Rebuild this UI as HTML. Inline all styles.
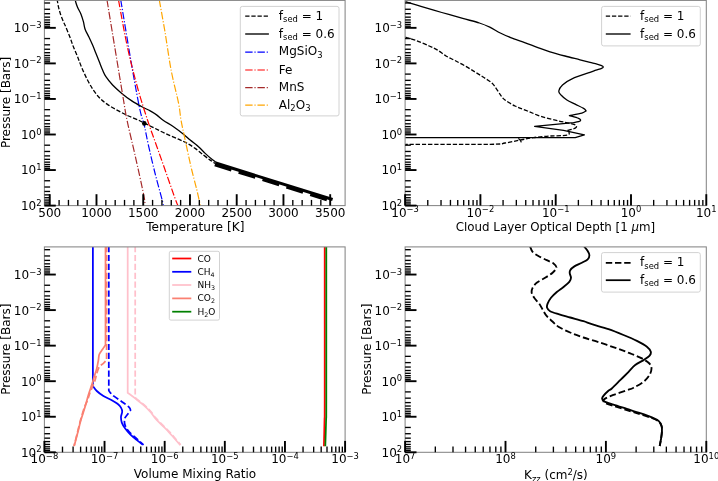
<!DOCTYPE html>
<html><head><meta charset="utf-8"><title>Figure</title>
<style>html,body{margin:0;padding:0;background:#fff}svg{display:block}</style></head>
<body>
<svg width="718" height="481" viewBox="0 0 718 481" font-family='"DejaVu Sans","Liberation Sans",sans-serif' fill="#000">
<rect width="718" height="481" fill="#fff"/>
<g id="p1">
<clipPath id="c1"><rect x="44.4" y="0.4" width="300.70000000000005" height="205.2"/></clipPath>
<g clip-path="url(#c1)">
<path d="M57.10 -1.00 C57.32 0.28 57.83 4.17 58.40 6.70 C58.97 9.23 59.67 11.70 60.50 14.20 C61.33 16.70 62.52 19.58 63.40 21.70 C64.28 23.82 64.68 24.25 65.80 26.90 C66.92 29.55 68.83 34.28 70.10 37.60 C71.37 40.92 72.15 43.60 73.40 46.80 C74.65 50.00 76.22 53.35 77.60 56.80 C78.98 60.25 80.05 63.63 81.70 67.50 C83.35 71.37 85.55 76.23 87.50 80.00 C89.45 83.77 91.30 87.03 93.40 90.10 C95.50 93.17 97.60 95.90 100.10 98.40 C102.60 100.90 105.33 103.02 108.40 105.10 C111.47 107.18 115.15 109.08 118.50 110.90 C121.85 112.72 125.17 114.47 128.50 116.00 C131.83 117.53 135.85 118.90 138.50 120.10 C141.15 121.30 141.63 121.82 144.40 123.20 C147.17 124.58 151.37 126.57 155.10 128.40 C158.83 130.23 162.90 132.40 166.80 134.20 C170.70 136.00 175.17 137.72 178.50 139.20 C181.83 140.68 184.02 141.57 186.80 143.10 C189.58 144.63 192.42 146.40 195.20 148.40 C197.98 150.40 201.00 153.15 203.50 155.10 C206.00 157.05 208.25 158.70 210.20 160.10 C212.15 161.50 214.37 162.93 215.20 163.50" fill="none" stroke="#000" stroke-width="1.3" stroke-dasharray="4.3,1.85" />
<path d="M74.90 -1.00 C75.15 -0.13 75.87 2.63 76.40 4.20 C76.93 5.77 77.33 6.73 78.10 8.40 C78.87 10.07 80.12 11.98 81.00 14.20 C81.88 16.42 82.72 19.20 83.40 21.70 C84.08 24.20 84.20 26.68 85.10 29.20 C86.00 31.72 87.55 34.15 88.80 36.80 C90.05 39.45 91.40 42.32 92.60 45.10 C93.80 47.88 94.88 50.72 96.00 53.50 C97.12 56.28 98.20 59.05 99.30 61.80 C100.40 64.55 101.50 67.52 102.60 70.00 C103.70 72.48 104.23 74.20 105.90 76.70 C107.57 79.20 109.95 82.22 112.60 85.00 C115.25 87.78 118.60 90.75 121.80 93.40 C125.00 96.05 128.45 98.67 131.80 100.90 C135.15 103.13 138.83 105.13 141.90 106.80 C144.97 108.47 147.70 109.52 150.20 110.90 C152.70 112.28 154.68 113.50 156.90 115.10 C159.12 116.70 160.73 118.57 163.50 120.50 C166.27 122.43 170.17 124.42 173.50 126.70 C176.83 128.98 180.72 131.97 183.50 134.20 C186.28 136.43 187.70 138.02 190.20 140.10 C192.70 142.18 196.00 144.48 198.50 146.70 C201.00 148.92 202.97 151.30 205.20 153.40 C207.43 155.50 209.95 157.72 211.90 159.30 C213.85 160.88 216.07 162.30 216.90 162.90" fill="none" stroke="#000" stroke-width="1.3" />
<path d="M120.75 0.00 C122.71 11.67 129.29 51.67 132.50 70.00 C135.71 88.33 138.05 100.83 140.00 110.00 C141.95 119.17 142.80 119.15 144.20 125.00 C145.60 130.85 146.58 137.02 148.40 145.10 C150.22 153.18 152.87 164.58 155.10 173.50 C157.33 182.42 160.42 193.28 161.80 198.60 C163.18 203.92 163.13 204.27 163.40 205.40" fill="none" stroke="#0000ff" stroke-width="1.2" stroke-dasharray="7.4,1.85,1.16,1.85" />
<path d="M118.50 0.00 C120.00 7.92 124.33 32.92 127.50 47.50 C130.67 62.08 134.17 75.42 137.50 87.50 C140.83 99.58 144.57 110.97 147.50 120.00 C150.43 129.03 152.45 134.18 155.10 141.70 C157.75 149.22 160.07 155.62 163.40 165.10 C166.73 174.58 172.70 191.88 175.10 198.60 C177.50 205.32 177.35 204.27 177.80 205.40" fill="none" stroke="#ff0000" stroke-width="1.2" stroke-dasharray="7.4,1.85,1.16,1.85" />
<path d="M107.00 0.00 C109.58 15.67 119.17 74.00 122.50 94.00 C125.83 114.00 124.92 109.83 127.00 120.00 C129.08 130.17 132.21 142.50 135.00 155.00 C137.79 167.50 142.08 186.58 143.75 195.00 C145.42 203.42 144.79 203.75 145.00 205.50" fill="none" stroke="#a52a2a" stroke-width="1.2" stroke-dasharray="7.4,1.85,1.16,1.85" />
<path d="M159.30 0.00 C160.25 5.33 163.03 20.33 165.00 32.00 C166.97 43.67 168.83 58.10 171.10 70.00 C173.37 81.90 176.95 95.07 178.60 103.40 C180.25 111.73 179.90 113.88 181.00 120.00 C182.10 126.12 183.53 132.30 185.20 140.10 C186.87 147.90 189.05 158.45 191.00 166.80 C192.95 175.15 195.35 183.77 196.90 190.20 C198.45 196.63 199.73 202.87 200.30 205.40" fill="none" stroke="#ffa500" stroke-width="1.2" stroke-dasharray="7.4,1.85,1.16,1.85" />
<circle cx="144.3" cy="123.4" r="2.3" fill="#000"/>
<path d="M215.70 163.00 L332.60 199.50" fill="none" stroke="#000" stroke-width="3.0" />
<path d="M214.90 164.40 L331.80 200.90" fill="none" stroke="#000" stroke-width="3.8" stroke-dasharray="17.4,7.6" />
</g>
<rect x="44.4" y="0.4" width="300.70000000000005" height="205.2" fill="none" stroke="#858585" stroke-width="1.05"/>
<line x1="44.4" x2="55.8" y1="205.60" y2="205.60" stroke="#000" stroke-width="1.9"/>
<line x1="44.4" x2="50.1" y1="180.75" y2="180.75" stroke="#000" stroke-width="1.35"/>
<line x1="44.4" x2="50.1" y1="187.01" y2="187.01" stroke="#000" stroke-width="1.35"/>
<line x1="44.4" x2="50.1" y1="191.45" y2="191.45" stroke="#000" stroke-width="1.35"/>
<line x1="44.4" x2="50.1" y1="194.90" y2="194.90" stroke="#000" stroke-width="1.35"/>
<line x1="44.4" x2="50.1" y1="197.71" y2="197.71" stroke="#000" stroke-width="1.35"/>
<line x1="44.4" x2="50.1" y1="200.09" y2="200.09" stroke="#000" stroke-width="1.35"/>
<line x1="44.4" x2="50.1" y1="202.15" y2="202.15" stroke="#000" stroke-width="1.35"/>
<line x1="44.4" x2="50.1" y1="203.97" y2="203.97" stroke="#000" stroke-width="1.35"/>
<line x1="44.4" x2="55.8" y1="170.05" y2="170.05" stroke="#000" stroke-width="1.9"/>
<line x1="44.4" x2="50.1" y1="145.20" y2="145.20" stroke="#000" stroke-width="1.35"/>
<line x1="44.4" x2="50.1" y1="151.46" y2="151.46" stroke="#000" stroke-width="1.35"/>
<line x1="44.4" x2="50.1" y1="155.90" y2="155.90" stroke="#000" stroke-width="1.35"/>
<line x1="44.4" x2="50.1" y1="159.35" y2="159.35" stroke="#000" stroke-width="1.35"/>
<line x1="44.4" x2="50.1" y1="162.16" y2="162.16" stroke="#000" stroke-width="1.35"/>
<line x1="44.4" x2="50.1" y1="164.54" y2="164.54" stroke="#000" stroke-width="1.35"/>
<line x1="44.4" x2="50.1" y1="166.60" y2="166.60" stroke="#000" stroke-width="1.35"/>
<line x1="44.4" x2="50.1" y1="168.42" y2="168.42" stroke="#000" stroke-width="1.35"/>
<line x1="44.4" x2="55.8" y1="134.50" y2="134.50" stroke="#000" stroke-width="1.9"/>
<line x1="44.4" x2="50.1" y1="109.65" y2="109.65" stroke="#000" stroke-width="1.35"/>
<line x1="44.4" x2="50.1" y1="115.91" y2="115.91" stroke="#000" stroke-width="1.35"/>
<line x1="44.4" x2="50.1" y1="120.35" y2="120.35" stroke="#000" stroke-width="1.35"/>
<line x1="44.4" x2="50.1" y1="123.80" y2="123.80" stroke="#000" stroke-width="1.35"/>
<line x1="44.4" x2="50.1" y1="126.61" y2="126.61" stroke="#000" stroke-width="1.35"/>
<line x1="44.4" x2="50.1" y1="128.99" y2="128.99" stroke="#000" stroke-width="1.35"/>
<line x1="44.4" x2="50.1" y1="131.05" y2="131.05" stroke="#000" stroke-width="1.35"/>
<line x1="44.4" x2="50.1" y1="132.87" y2="132.87" stroke="#000" stroke-width="1.35"/>
<line x1="44.4" x2="55.8" y1="98.95" y2="98.95" stroke="#000" stroke-width="1.9"/>
<line x1="44.4" x2="50.1" y1="74.10" y2="74.10" stroke="#000" stroke-width="1.35"/>
<line x1="44.4" x2="50.1" y1="80.36" y2="80.36" stroke="#000" stroke-width="1.35"/>
<line x1="44.4" x2="50.1" y1="84.80" y2="84.80" stroke="#000" stroke-width="1.35"/>
<line x1="44.4" x2="50.1" y1="88.25" y2="88.25" stroke="#000" stroke-width="1.35"/>
<line x1="44.4" x2="50.1" y1="91.06" y2="91.06" stroke="#000" stroke-width="1.35"/>
<line x1="44.4" x2="50.1" y1="93.44" y2="93.44" stroke="#000" stroke-width="1.35"/>
<line x1="44.4" x2="50.1" y1="95.50" y2="95.50" stroke="#000" stroke-width="1.35"/>
<line x1="44.4" x2="50.1" y1="97.32" y2="97.32" stroke="#000" stroke-width="1.35"/>
<line x1="44.4" x2="55.8" y1="63.40" y2="63.40" stroke="#000" stroke-width="1.9"/>
<line x1="44.4" x2="50.1" y1="38.55" y2="38.55" stroke="#000" stroke-width="1.35"/>
<line x1="44.4" x2="50.1" y1="44.81" y2="44.81" stroke="#000" stroke-width="1.35"/>
<line x1="44.4" x2="50.1" y1="49.25" y2="49.25" stroke="#000" stroke-width="1.35"/>
<line x1="44.4" x2="50.1" y1="52.70" y2="52.70" stroke="#000" stroke-width="1.35"/>
<line x1="44.4" x2="50.1" y1="55.51" y2="55.51" stroke="#000" stroke-width="1.35"/>
<line x1="44.4" x2="50.1" y1="57.89" y2="57.89" stroke="#000" stroke-width="1.35"/>
<line x1="44.4" x2="50.1" y1="59.95" y2="59.95" stroke="#000" stroke-width="1.35"/>
<line x1="44.4" x2="50.1" y1="61.77" y2="61.77" stroke="#000" stroke-width="1.35"/>
<line x1="44.4" x2="55.8" y1="27.85" y2="27.85" stroke="#000" stroke-width="1.9"/>
<line x1="44.4" x2="50.1" y1="3.00" y2="3.00" stroke="#000" stroke-width="1.35"/>
<line x1="44.4" x2="50.1" y1="9.26" y2="9.26" stroke="#000" stroke-width="1.35"/>
<line x1="44.4" x2="50.1" y1="13.70" y2="13.70" stroke="#000" stroke-width="1.35"/>
<line x1="44.4" x2="50.1" y1="17.15" y2="17.15" stroke="#000" stroke-width="1.35"/>
<line x1="44.4" x2="50.1" y1="19.96" y2="19.96" stroke="#000" stroke-width="1.35"/>
<line x1="44.4" x2="50.1" y1="22.34" y2="22.34" stroke="#000" stroke-width="1.35"/>
<line x1="44.4" x2="50.1" y1="24.40" y2="24.40" stroke="#000" stroke-width="1.35"/>
<line x1="44.4" x2="50.1" y1="26.22" y2="26.22" stroke="#000" stroke-width="1.35"/>
<line x1="49.75" x2="49.75" y1="205.6" y2="194.2" stroke="#000" stroke-width="1.9"/>
<text x="49.75" y="216.80" text-anchor="middle" font-size="12">500</text>
<line x1="59.10" x2="59.10" y1="205.6" y2="199.9" stroke="#000" stroke-width="1.35"/>
<line x1="68.45" x2="68.45" y1="205.6" y2="199.9" stroke="#000" stroke-width="1.35"/>
<line x1="77.79" x2="77.79" y1="205.6" y2="199.9" stroke="#000" stroke-width="1.35"/>
<line x1="87.14" x2="87.14" y1="205.6" y2="199.9" stroke="#000" stroke-width="1.35"/>
<line x1="96.49" x2="96.49" y1="205.6" y2="194.2" stroke="#000" stroke-width="1.9"/>
<text x="96.49" y="216.80" text-anchor="middle" font-size="12">1000</text>
<line x1="105.84" x2="105.84" y1="205.6" y2="199.9" stroke="#000" stroke-width="1.35"/>
<line x1="115.19" x2="115.19" y1="205.6" y2="199.9" stroke="#000" stroke-width="1.35"/>
<line x1="124.53" x2="124.53" y1="205.6" y2="199.9" stroke="#000" stroke-width="1.35"/>
<line x1="133.88" x2="133.88" y1="205.6" y2="199.9" stroke="#000" stroke-width="1.35"/>
<line x1="143.23" x2="143.23" y1="205.6" y2="194.2" stroke="#000" stroke-width="1.9"/>
<text x="143.23" y="216.80" text-anchor="middle" font-size="12">1500</text>
<line x1="152.58" x2="152.58" y1="205.6" y2="199.9" stroke="#000" stroke-width="1.35"/>
<line x1="161.93" x2="161.93" y1="205.6" y2="199.9" stroke="#000" stroke-width="1.35"/>
<line x1="171.27" x2="171.27" y1="205.6" y2="199.9" stroke="#000" stroke-width="1.35"/>
<line x1="180.62" x2="180.62" y1="205.6" y2="199.9" stroke="#000" stroke-width="1.35"/>
<line x1="189.97" x2="189.97" y1="205.6" y2="194.2" stroke="#000" stroke-width="1.9"/>
<text x="189.97" y="216.80" text-anchor="middle" font-size="12">2000</text>
<line x1="199.32" x2="199.32" y1="205.6" y2="199.9" stroke="#000" stroke-width="1.35"/>
<line x1="208.67" x2="208.67" y1="205.6" y2="199.9" stroke="#000" stroke-width="1.35"/>
<line x1="218.01" x2="218.01" y1="205.6" y2="199.9" stroke="#000" stroke-width="1.35"/>
<line x1="227.36" x2="227.36" y1="205.6" y2="199.9" stroke="#000" stroke-width="1.35"/>
<line x1="236.71" x2="236.71" y1="205.6" y2="194.2" stroke="#000" stroke-width="1.9"/>
<text x="236.71" y="216.80" text-anchor="middle" font-size="12">2500</text>
<line x1="246.06" x2="246.06" y1="205.6" y2="199.9" stroke="#000" stroke-width="1.35"/>
<line x1="255.41" x2="255.41" y1="205.6" y2="199.9" stroke="#000" stroke-width="1.35"/>
<line x1="264.75" x2="264.75" y1="205.6" y2="199.9" stroke="#000" stroke-width="1.35"/>
<line x1="274.10" x2="274.10" y1="205.6" y2="199.9" stroke="#000" stroke-width="1.35"/>
<line x1="283.45" x2="283.45" y1="205.6" y2="194.2" stroke="#000" stroke-width="1.9"/>
<text x="283.45" y="216.80" text-anchor="middle" font-size="12">3000</text>
<line x1="292.80" x2="292.80" y1="205.6" y2="199.9" stroke="#000" stroke-width="1.35"/>
<line x1="302.15" x2="302.15" y1="205.6" y2="199.9" stroke="#000" stroke-width="1.35"/>
<line x1="311.49" x2="311.49" y1="205.6" y2="199.9" stroke="#000" stroke-width="1.35"/>
<line x1="320.84" x2="320.84" y1="205.6" y2="199.9" stroke="#000" stroke-width="1.35"/>
<line x1="330.19" x2="330.19" y1="205.6" y2="194.2" stroke="#000" stroke-width="1.9"/>
<text x="330.19" y="216.80" text-anchor="middle" font-size="12">3500</text>
<text x="41.5" y="210.00" text-anchor="end" font-size="12">10<tspan font-size="8.4" dy="-4.4">2</tspan></text>
<text x="41.5" y="174.45" text-anchor="end" font-size="12">10<tspan font-size="8.4" dy="-4.4">1</tspan></text>
<text x="41.5" y="138.90" text-anchor="end" font-size="12">10<tspan font-size="8.4" dy="-4.4">0</tspan></text>
<text x="41.5" y="103.35" text-anchor="end" font-size="12">10<tspan font-size="8.4" dy="-4.4">−1</tspan></text>
<text x="41.5" y="67.80" text-anchor="end" font-size="12">10<tspan font-size="8.4" dy="-4.4">−2</tspan></text>
<text x="41.5" y="32.25" text-anchor="end" font-size="12">10<tspan font-size="8.4" dy="-4.4">−3</tspan></text>
<text x="195.3" y="230.8" text-anchor="middle" font-size="12.15">Temperature [K]</text>
<text transform="translate(10,102.5) rotate(-90)" text-anchor="middle" font-size="12">Pressure [Bars]</text>
<rect x="240.3" y="6.4" width="98.7" height="109.5" rx="2" fill="#fff" fill-opacity="0.8" stroke="#d2d2d2" stroke-width="1"/>
<line x1="245.2" x2="268.9" y1="16.1" y2="16.1" stroke="#000" stroke-width="1.35" stroke-dasharray="4.3,1.85"/>
<line x1="245.2" x2="268.9" y1="34.0" y2="34.0" stroke="#000" stroke-width="1.35"/>
<line x1="245.2" x2="268.9" y1="52.1" y2="52.1" stroke="#0000ff" stroke-width="1.2" stroke-dasharray="7.4,1.85,1.16,1.85"/>
<line x1="245.2" x2="268.9" y1="70.0" y2="70.0" stroke="#ff0000" stroke-width="1.2" stroke-dasharray="7.4,1.85,1.16,1.85"/>
<line x1="245.2" x2="268.9" y1="87.6" y2="87.6" stroke="#a52a2a" stroke-width="1.2" stroke-dasharray="7.4,1.85,1.16,1.85"/>
<line x1="245.2" x2="268.9" y1="105.2" y2="105.2" stroke="#ffa500" stroke-width="1.2" stroke-dasharray="7.4,1.85,1.16,1.85"/>
<text x="278.8" y="19.900000000000002" font-size="12">f<tspan font-size="8.40" dy="2.4">sed</tspan><tspan dy="-2.4"> = 1</tspan></text>
<text x="278.8" y="37.5" font-size="12">f<tspan font-size="8.40" dy="2.4">sed</tspan><tspan dy="-2.4"> = 0.6</tspan></text>
<text x="278.8" y="55.2" font-size="12">MgSiO<tspan font-size="8.4" dy="2.4">3</tspan></text>
<text x="278.8" y="73.8" font-size="12">Fe</text>
<text x="278.8" y="91.39999999999999" font-size="12">MnS</text>
<text x="278.8" y="109.0" font-size="12">Al<tspan font-size="8.4" dy="2.4">2</tspan><tspan dy="-2.4">O</tspan><tspan font-size="8.4" dy="2.4">3</tspan></text>
</g>
<g id="p2">
<clipPath id="c2"><rect x="405.1" y="0.4" width="301.19999999999993" height="205.2"/></clipPath>
<g clip-path="url(#c2)">
<path d="M405.20 1.70 C407.82 2.47 414.80 4.50 420.90 6.30 C427.00 8.10 434.83 10.48 441.80 12.50 C448.77 14.52 456.43 16.65 462.70 18.40 C468.97 20.15 474.88 21.53 479.40 23.00 C483.92 24.47 486.32 25.53 489.80 27.20 C493.28 28.87 496.82 31.27 500.30 33.00 C503.78 34.73 506.53 35.97 510.70 37.60 C514.87 39.23 520.77 41.13 525.30 42.80 C529.83 44.47 533.78 46.10 537.90 47.60 C542.02 49.10 545.48 50.40 550.00 51.80 C554.52 53.20 560.00 54.67 565.00 56.00 C570.00 57.33 575.83 58.73 580.00 59.80 C584.17 60.87 587.17 61.67 590.00 62.40 C592.83 63.13 595.07 63.67 597.00 64.20 C598.93 64.73 600.55 65.15 601.60 65.60 C602.65 66.05 603.30 66.45 603.30 66.90 C603.30 67.35 602.82 67.75 601.60 68.30 C600.38 68.85 597.93 69.52 596.00 70.20 C594.07 70.88 593.92 71.00 590.00 72.40 C586.08 73.80 577.08 76.52 572.50 78.60 C567.92 80.68 564.78 82.83 562.50 84.90 C560.22 86.97 559.05 89.32 558.80 91.00 C558.55 92.68 559.65 93.50 561.00 95.00 C562.35 96.50 564.53 98.47 566.90 100.00 C569.27 101.53 572.42 102.80 575.20 104.20 C577.98 105.60 581.78 107.28 583.60 108.40 C585.42 109.52 585.68 110.48 586.10 110.90 L586.10 110.90 C585.40 111.27 584.68 112.32 581.90 113.10 C579.12 113.88 571.48 115.18 569.40 115.60 L569.40 115.60 C570.93 116.07 576.80 117.52 578.60 118.40 C580.40 119.28 581.05 120.20 580.20 120.90 C579.35 121.60 574.62 122.32 573.50 122.60 L534.6 126.3 L563.5 130.4 L584.4 134.8 L575.2 137.6 L405 137.6" fill="none" stroke="#000" stroke-width="1.3" stroke-linejoin="round"/>
<path d="M405.20 37.20 C407.12 37.78 412.70 39.23 416.70 40.70 C420.70 42.17 425.72 44.43 429.20 46.00 C432.68 47.57 434.80 48.43 437.60 50.10 C440.40 51.77 443.22 54.32 446.00 56.00 C448.78 57.68 451.17 58.57 454.30 60.20 C457.43 61.83 461.32 63.82 464.80 65.80 C468.28 67.78 472.07 70.18 475.20 72.10 C478.33 74.02 480.82 75.47 483.60 77.30 C486.38 79.13 489.65 81.02 491.90 83.10 C494.15 85.18 495.53 87.63 497.10 89.80 C498.67 91.97 499.98 94.40 501.30 96.10 C502.62 97.80 502.72 98.35 505.00 100.00 C507.28 101.65 511.25 104.17 515.00 106.00 C518.75 107.83 523.03 109.22 527.50 111.00 C531.97 112.78 536.63 115.05 541.80 116.70 C546.97 118.35 553.77 119.78 558.50 120.90 C563.23 122.02 567.28 122.65 570.20 123.40 C573.12 124.15 575.17 124.62 576.00 125.40 C576.83 126.18 576.72 127.23 575.20 128.10 C573.68 128.97 568.28 130.18 566.90 130.60" fill="none" stroke="#000" stroke-width="1.3" stroke-dasharray="4.3,1.85" />
<path d="M568.50 130.50 C568.37 131.27 570.77 134.18 567.70 135.10 C564.63 136.02 555.82 135.58 550.10 136.00 C544.38 136.42 538.42 136.92 533.40 137.60 C528.38 138.28 524.73 139.20 520.00 140.10 C515.27 141.00 510.00 142.30 505.00 143.00 C500.00 143.70 506.67 144.08 490.00 144.30 C473.33 144.52 419.17 144.30 405.00 144.30" fill="none" stroke="#000" stroke-width="1.3" stroke-dasharray="4.3,1.85" />
<path d="M518.40 138.40 C518.70 138.70 519.70 139.53 520.20 140.20 C520.70 140.87 521.20 142.03 521.40 142.40" fill="none" stroke="#000" stroke-width="1.2" />
</g>
<rect x="405.1" y="0.4" width="301.19999999999993" height="205.2" fill="none" stroke="#858585" stroke-width="1.05"/>
<line x1="405.1" x2="416.5" y1="205.60" y2="205.60" stroke="#000" stroke-width="1.9"/>
<line x1="405.1" x2="410.8" y1="180.75" y2="180.75" stroke="#000" stroke-width="1.35"/>
<line x1="405.1" x2="410.8" y1="187.01" y2="187.01" stroke="#000" stroke-width="1.35"/>
<line x1="405.1" x2="410.8" y1="191.45" y2="191.45" stroke="#000" stroke-width="1.35"/>
<line x1="405.1" x2="410.8" y1="194.90" y2="194.90" stroke="#000" stroke-width="1.35"/>
<line x1="405.1" x2="410.8" y1="197.71" y2="197.71" stroke="#000" stroke-width="1.35"/>
<line x1="405.1" x2="410.8" y1="200.09" y2="200.09" stroke="#000" stroke-width="1.35"/>
<line x1="405.1" x2="410.8" y1="202.15" y2="202.15" stroke="#000" stroke-width="1.35"/>
<line x1="405.1" x2="410.8" y1="203.97" y2="203.97" stroke="#000" stroke-width="1.35"/>
<line x1="405.1" x2="416.5" y1="170.05" y2="170.05" stroke="#000" stroke-width="1.9"/>
<line x1="405.1" x2="410.8" y1="145.20" y2="145.20" stroke="#000" stroke-width="1.35"/>
<line x1="405.1" x2="410.8" y1="151.46" y2="151.46" stroke="#000" stroke-width="1.35"/>
<line x1="405.1" x2="410.8" y1="155.90" y2="155.90" stroke="#000" stroke-width="1.35"/>
<line x1="405.1" x2="410.8" y1="159.35" y2="159.35" stroke="#000" stroke-width="1.35"/>
<line x1="405.1" x2="410.8" y1="162.16" y2="162.16" stroke="#000" stroke-width="1.35"/>
<line x1="405.1" x2="410.8" y1="164.54" y2="164.54" stroke="#000" stroke-width="1.35"/>
<line x1="405.1" x2="410.8" y1="166.60" y2="166.60" stroke="#000" stroke-width="1.35"/>
<line x1="405.1" x2="410.8" y1="168.42" y2="168.42" stroke="#000" stroke-width="1.35"/>
<line x1="405.1" x2="416.5" y1="134.50" y2="134.50" stroke="#000" stroke-width="1.9"/>
<line x1="405.1" x2="410.8" y1="109.65" y2="109.65" stroke="#000" stroke-width="1.35"/>
<line x1="405.1" x2="410.8" y1="115.91" y2="115.91" stroke="#000" stroke-width="1.35"/>
<line x1="405.1" x2="410.8" y1="120.35" y2="120.35" stroke="#000" stroke-width="1.35"/>
<line x1="405.1" x2="410.8" y1="123.80" y2="123.80" stroke="#000" stroke-width="1.35"/>
<line x1="405.1" x2="410.8" y1="126.61" y2="126.61" stroke="#000" stroke-width="1.35"/>
<line x1="405.1" x2="410.8" y1="128.99" y2="128.99" stroke="#000" stroke-width="1.35"/>
<line x1="405.1" x2="410.8" y1="131.05" y2="131.05" stroke="#000" stroke-width="1.35"/>
<line x1="405.1" x2="410.8" y1="132.87" y2="132.87" stroke="#000" stroke-width="1.35"/>
<line x1="405.1" x2="416.5" y1="98.95" y2="98.95" stroke="#000" stroke-width="1.9"/>
<line x1="405.1" x2="410.8" y1="74.10" y2="74.10" stroke="#000" stroke-width="1.35"/>
<line x1="405.1" x2="410.8" y1="80.36" y2="80.36" stroke="#000" stroke-width="1.35"/>
<line x1="405.1" x2="410.8" y1="84.80" y2="84.80" stroke="#000" stroke-width="1.35"/>
<line x1="405.1" x2="410.8" y1="88.25" y2="88.25" stroke="#000" stroke-width="1.35"/>
<line x1="405.1" x2="410.8" y1="91.06" y2="91.06" stroke="#000" stroke-width="1.35"/>
<line x1="405.1" x2="410.8" y1="93.44" y2="93.44" stroke="#000" stroke-width="1.35"/>
<line x1="405.1" x2="410.8" y1="95.50" y2="95.50" stroke="#000" stroke-width="1.35"/>
<line x1="405.1" x2="410.8" y1="97.32" y2="97.32" stroke="#000" stroke-width="1.35"/>
<line x1="405.1" x2="416.5" y1="63.40" y2="63.40" stroke="#000" stroke-width="1.9"/>
<line x1="405.1" x2="410.8" y1="38.55" y2="38.55" stroke="#000" stroke-width="1.35"/>
<line x1="405.1" x2="410.8" y1="44.81" y2="44.81" stroke="#000" stroke-width="1.35"/>
<line x1="405.1" x2="410.8" y1="49.25" y2="49.25" stroke="#000" stroke-width="1.35"/>
<line x1="405.1" x2="410.8" y1="52.70" y2="52.70" stroke="#000" stroke-width="1.35"/>
<line x1="405.1" x2="410.8" y1="55.51" y2="55.51" stroke="#000" stroke-width="1.35"/>
<line x1="405.1" x2="410.8" y1="57.89" y2="57.89" stroke="#000" stroke-width="1.35"/>
<line x1="405.1" x2="410.8" y1="59.95" y2="59.95" stroke="#000" stroke-width="1.35"/>
<line x1="405.1" x2="410.8" y1="61.77" y2="61.77" stroke="#000" stroke-width="1.35"/>
<line x1="405.1" x2="416.5" y1="27.85" y2="27.85" stroke="#000" stroke-width="1.9"/>
<line x1="405.1" x2="410.8" y1="3.00" y2="3.00" stroke="#000" stroke-width="1.35"/>
<line x1="405.1" x2="410.8" y1="9.26" y2="9.26" stroke="#000" stroke-width="1.35"/>
<line x1="405.1" x2="410.8" y1="13.70" y2="13.70" stroke="#000" stroke-width="1.35"/>
<line x1="405.1" x2="410.8" y1="17.15" y2="17.15" stroke="#000" stroke-width="1.35"/>
<line x1="405.1" x2="410.8" y1="19.96" y2="19.96" stroke="#000" stroke-width="1.35"/>
<line x1="405.1" x2="410.8" y1="22.34" y2="22.34" stroke="#000" stroke-width="1.35"/>
<line x1="405.1" x2="410.8" y1="24.40" y2="24.40" stroke="#000" stroke-width="1.35"/>
<line x1="405.1" x2="410.8" y1="26.22" y2="26.22" stroke="#000" stroke-width="1.35"/>
<line x1="405.10" x2="405.10" y1="205.6" y2="194.2" stroke="#000" stroke-width="1.9"/>
<line x1="427.77" x2="427.77" y1="205.6" y2="199.9" stroke="#000" stroke-width="1.35"/>
<line x1="441.03" x2="441.03" y1="205.6" y2="199.9" stroke="#000" stroke-width="1.35"/>
<line x1="450.44" x2="450.44" y1="205.6" y2="199.9" stroke="#000" stroke-width="1.35"/>
<line x1="457.73" x2="457.73" y1="205.6" y2="199.9" stroke="#000" stroke-width="1.35"/>
<line x1="463.69" x2="463.69" y1="205.6" y2="199.9" stroke="#000" stroke-width="1.35"/>
<line x1="468.74" x2="468.74" y1="205.6" y2="199.9" stroke="#000" stroke-width="1.35"/>
<line x1="473.10" x2="473.10" y1="205.6" y2="199.9" stroke="#000" stroke-width="1.35"/>
<line x1="476.95" x2="476.95" y1="205.6" y2="199.9" stroke="#000" stroke-width="1.35"/>
<line x1="480.40" x2="480.40" y1="205.6" y2="194.2" stroke="#000" stroke-width="1.9"/>
<line x1="503.07" x2="503.07" y1="205.6" y2="199.9" stroke="#000" stroke-width="1.35"/>
<line x1="516.33" x2="516.33" y1="205.6" y2="199.9" stroke="#000" stroke-width="1.35"/>
<line x1="525.74" x2="525.74" y1="205.6" y2="199.9" stroke="#000" stroke-width="1.35"/>
<line x1="533.03" x2="533.03" y1="205.6" y2="199.9" stroke="#000" stroke-width="1.35"/>
<line x1="538.99" x2="538.99" y1="205.6" y2="199.9" stroke="#000" stroke-width="1.35"/>
<line x1="544.04" x2="544.04" y1="205.6" y2="199.9" stroke="#000" stroke-width="1.35"/>
<line x1="548.40" x2="548.40" y1="205.6" y2="199.9" stroke="#000" stroke-width="1.35"/>
<line x1="552.25" x2="552.25" y1="205.6" y2="199.9" stroke="#000" stroke-width="1.35"/>
<line x1="555.70" x2="555.70" y1="205.6" y2="194.2" stroke="#000" stroke-width="1.9"/>
<line x1="578.37" x2="578.37" y1="205.6" y2="199.9" stroke="#000" stroke-width="1.35"/>
<line x1="591.63" x2="591.63" y1="205.6" y2="199.9" stroke="#000" stroke-width="1.35"/>
<line x1="601.04" x2="601.04" y1="205.6" y2="199.9" stroke="#000" stroke-width="1.35"/>
<line x1="608.33" x2="608.33" y1="205.6" y2="199.9" stroke="#000" stroke-width="1.35"/>
<line x1="614.29" x2="614.29" y1="205.6" y2="199.9" stroke="#000" stroke-width="1.35"/>
<line x1="619.34" x2="619.34" y1="205.6" y2="199.9" stroke="#000" stroke-width="1.35"/>
<line x1="623.70" x2="623.70" y1="205.6" y2="199.9" stroke="#000" stroke-width="1.35"/>
<line x1="627.55" x2="627.55" y1="205.6" y2="199.9" stroke="#000" stroke-width="1.35"/>
<line x1="631.00" x2="631.00" y1="205.6" y2="194.2" stroke="#000" stroke-width="1.9"/>
<line x1="653.67" x2="653.67" y1="205.6" y2="199.9" stroke="#000" stroke-width="1.35"/>
<line x1="666.93" x2="666.93" y1="205.6" y2="199.9" stroke="#000" stroke-width="1.35"/>
<line x1="676.34" x2="676.34" y1="205.6" y2="199.9" stroke="#000" stroke-width="1.35"/>
<line x1="683.63" x2="683.63" y1="205.6" y2="199.9" stroke="#000" stroke-width="1.35"/>
<line x1="689.59" x2="689.59" y1="205.6" y2="199.9" stroke="#000" stroke-width="1.35"/>
<line x1="694.64" x2="694.64" y1="205.6" y2="199.9" stroke="#000" stroke-width="1.35"/>
<line x1="699.00" x2="699.00" y1="205.6" y2="199.9" stroke="#000" stroke-width="1.35"/>
<line x1="702.85" x2="702.85" y1="205.6" y2="199.9" stroke="#000" stroke-width="1.35"/>
<line x1="706.30" x2="706.30" y1="205.6" y2="194.2" stroke="#000" stroke-width="1.9"/>
<text x="402.20000000000005" y="210.00" text-anchor="end" font-size="12">10<tspan font-size="8.4" dy="-4.4">2</tspan></text>
<text x="402.20000000000005" y="174.45" text-anchor="end" font-size="12">10<tspan font-size="8.4" dy="-4.4">1</tspan></text>
<text x="402.20000000000005" y="138.90" text-anchor="end" font-size="12">10<tspan font-size="8.4" dy="-4.4">0</tspan></text>
<text x="402.20000000000005" y="103.35" text-anchor="end" font-size="12">10<tspan font-size="8.4" dy="-4.4">−1</tspan></text>
<text x="402.20000000000005" y="67.80" text-anchor="end" font-size="12">10<tspan font-size="8.4" dy="-4.4">−2</tspan></text>
<text x="402.20000000000005" y="32.25" text-anchor="end" font-size="12">10<tspan font-size="8.4" dy="-4.4">−3</tspan></text>
<text x="405.10" y="216.70" text-anchor="middle" font-size="12">10<tspan font-size="8.4" dy="-4.4">−3</tspan></text>
<text x="480.40" y="216.70" text-anchor="middle" font-size="12">10<tspan font-size="8.4" dy="-4.4">−2</tspan></text>
<text x="555.70" y="216.70" text-anchor="middle" font-size="12">10<tspan font-size="8.4" dy="-4.4">−1</tspan></text>
<text x="631.00" y="216.70" text-anchor="middle" font-size="12">10<tspan font-size="8.4" dy="-4.4">0</tspan></text>
<text x="706.30" y="216.70" text-anchor="middle" font-size="12">10<tspan font-size="8.4" dy="-4.4">1</tspan></text>
<text x="555.5" y="231" text-anchor="middle" font-size="11.85">Cloud Layer Optical Depth [1 <tspan font-style="italic">μ</tspan>m]</text>
<rect x="601.6" y="6.4" width="98.7" height="39.5" rx="2" fill="#fff" fill-opacity="0.8" stroke="#d2d2d2" stroke-width="1"/>
<line x1="605.8" x2="630.6" y1="16.1" y2="16.1" stroke="#000" stroke-width="1.35" stroke-dasharray="4.3,1.85"/>
<line x1="605.8" x2="630.6" y1="34.0" y2="34.0" stroke="#000" stroke-width="1.35"/>
<text x="640.1" y="19.9" font-size="12">f<tspan font-size="8.40" dy="2.4">sed</tspan><tspan dy="-2.4"> = 1</tspan></text>
<text x="640.1" y="37.5" font-size="12">f<tspan font-size="8.40" dy="2.4">sed</tspan><tspan dy="-2.4"> = 0.6</tspan></text>
</g>
<g id="p3">
<clipPath id="c3"><rect x="44.4" y="246.9" width="300.70000000000005" height="205.4"/></clipPath>
<g clip-path="url(#c3)">
<path d="M324.70 246.00 C324.70 271.67 324.73 371.00 324.70 400.00 C324.67 429.00 324.63 412.30 324.50 420.00 C324.37 427.70 324.00 441.83 323.90 446.20" fill="none" stroke="#ff0000" stroke-width="1.75" />
<path d="M92.9 246 L92.9 386 L92.90 386.00 C93.55 386.83 95.05 389.33 96.80 391.00 C98.55 392.67 100.90 394.47 103.40 396.00 C105.90 397.53 109.45 398.90 111.80 400.20 C114.15 401.50 115.97 402.57 117.50 403.80 C119.03 405.03 120.22 406.28 121.00 407.60 C121.78 408.92 122.20 410.17 122.20 411.70 C122.20 413.23 121.07 414.98 121.00 416.80 C120.93 418.62 121.10 420.65 121.80 422.60 C122.50 424.55 123.80 426.55 125.20 428.50 C126.60 430.45 128.25 432.35 130.20 434.30 C132.15 436.25 134.82 438.45 136.90 440.20 C138.98 441.95 141.73 444.03 142.70 444.80" fill="none" stroke="#0000ff" stroke-width="1.75"/>
<path d="M108.8 246 L108.8 390.2 L108.80 390.20 C108.93 390.47 108.82 390.85 109.60 391.80 C110.38 392.75 111.47 394.25 113.50 395.90 C115.53 397.55 119.30 399.90 121.80 401.70 C124.30 403.50 127.05 405.30 128.50 406.70 C129.95 408.10 130.63 408.85 130.50 410.10 C130.37 411.35 128.65 412.82 127.70 414.20 C126.75 415.58 125.28 416.72 124.80 418.40 C124.32 420.08 124.32 422.35 124.80 424.30 C125.28 426.25 126.25 428.15 127.70 430.10 C129.15 432.05 131.42 434.05 133.50 436.00 C135.58 437.95 138.52 440.33 140.20 441.80 C141.88 443.27 143.03 444.30 143.60 444.80" fill="none" stroke="#0000ff" stroke-width="1.75" stroke-dasharray="6.2,2.7"/>
<path d="M127.7 246 L127.7 392.7 L127.70 392.70 C128.95 393.65 132.55 396.33 135.20 398.40 C137.85 400.47 141.10 402.88 143.60 405.10 C146.10 407.32 148.25 409.48 150.20 411.70 C152.15 413.92 153.35 416.17 155.30 418.40 C157.25 420.63 159.68 422.87 161.90 425.10 C164.12 427.33 166.50 429.57 168.60 431.80 C170.70 434.03 172.55 436.27 174.50 438.50 C176.45 440.73 179.33 444.08 180.30 445.20" fill="none" stroke="#ffc0cb" stroke-width="1.75"/>
<path d="M135.2 246 L135.2 396.2 L135.20 396.20 C135.37 396.60 134.70 397.15 136.20 398.60 C137.70 400.05 141.77 402.75 144.20 404.90 C146.63 407.05 148.85 409.28 150.80 411.50 C152.75 413.72 153.95 415.97 155.90 418.20 C157.85 420.43 160.28 422.67 162.50 424.90 C164.72 427.13 167.10 429.37 169.20 431.60 C171.30 433.83 173.20 436.10 175.10 438.30 C177.00 440.50 179.68 443.72 180.60 444.80" fill="none" stroke="#ffc0cb" stroke-width="1.75" stroke-dasharray="6.2,2.7"/>
<path d="M105.5 246 L105.5 345 L105.50 345.00 C105.02 345.70 103.63 347.67 102.60 349.20 C101.57 350.73 100.00 352.38 99.30 354.20 C98.60 356.02 98.82 357.73 98.40 360.10 C97.98 362.47 97.50 365.62 96.80 368.40 C96.10 371.18 95.05 374.02 94.20 376.80 C93.35 379.58 92.67 382.07 91.70 385.10 C90.73 388.13 89.50 391.40 88.40 395.00 C87.30 398.60 86.35 402.52 85.10 406.70 C83.85 410.88 82.17 415.63 80.90 420.10 C79.63 424.57 78.62 429.18 77.50 433.50 C76.38 437.82 74.75 443.92 74.20 446.00" fill="none" stroke="#fa8072" stroke-width="1.75"/>
<path d="M106.6 246 L106.6 360 L106.60 360.00 C106.07 360.57 104.62 362.27 103.40 363.40 C102.18 364.53 100.40 365.13 99.30 366.80 C98.20 368.47 97.50 371.18 96.80 373.40 C96.10 375.62 95.83 377.87 95.10 380.10 C94.37 382.33 93.30 384.57 92.40 386.80 C91.50 389.03 90.50 391.30 89.70 393.50 C88.90 395.70 88.45 397.77 87.60 400.00 C86.75 402.23 85.78 403.52 84.60 406.90 C83.42 410.28 81.73 415.85 80.50 420.30 C79.27 424.75 78.28 429.32 77.20 433.60 C76.12 437.88 74.53 443.93 74.00 446.00" fill="none" stroke="#fa8072" stroke-width="1.75" stroke-dasharray="6.2,2.7"/>
<path d="M326.30 246.00 C326.30 271.67 326.33 371.00 326.30 400.00 C326.27 429.00 326.27 412.30 326.10 420.00 C325.93 427.70 325.43 441.83 325.30 446.20" fill="none" stroke="#008000" stroke-width="1.75" />
</g>
<rect x="44.4" y="246.9" width="300.70000000000005" height="205.4" fill="none" stroke="#858585" stroke-width="1.05"/>
<line x1="44.4" x2="55.8" y1="452.30" y2="452.30" stroke="#000" stroke-width="1.9"/>
<line x1="44.4" x2="50.1" y1="427.45" y2="427.45" stroke="#000" stroke-width="1.35"/>
<line x1="44.4" x2="50.1" y1="433.71" y2="433.71" stroke="#000" stroke-width="1.35"/>
<line x1="44.4" x2="50.1" y1="438.15" y2="438.15" stroke="#000" stroke-width="1.35"/>
<line x1="44.4" x2="50.1" y1="441.60" y2="441.60" stroke="#000" stroke-width="1.35"/>
<line x1="44.4" x2="50.1" y1="444.41" y2="444.41" stroke="#000" stroke-width="1.35"/>
<line x1="44.4" x2="50.1" y1="446.79" y2="446.79" stroke="#000" stroke-width="1.35"/>
<line x1="44.4" x2="50.1" y1="448.85" y2="448.85" stroke="#000" stroke-width="1.35"/>
<line x1="44.4" x2="50.1" y1="450.67" y2="450.67" stroke="#000" stroke-width="1.35"/>
<line x1="44.4" x2="55.8" y1="416.75" y2="416.75" stroke="#000" stroke-width="1.9"/>
<line x1="44.4" x2="50.1" y1="391.90" y2="391.90" stroke="#000" stroke-width="1.35"/>
<line x1="44.4" x2="50.1" y1="398.16" y2="398.16" stroke="#000" stroke-width="1.35"/>
<line x1="44.4" x2="50.1" y1="402.60" y2="402.60" stroke="#000" stroke-width="1.35"/>
<line x1="44.4" x2="50.1" y1="406.05" y2="406.05" stroke="#000" stroke-width="1.35"/>
<line x1="44.4" x2="50.1" y1="408.86" y2="408.86" stroke="#000" stroke-width="1.35"/>
<line x1="44.4" x2="50.1" y1="411.24" y2="411.24" stroke="#000" stroke-width="1.35"/>
<line x1="44.4" x2="50.1" y1="413.30" y2="413.30" stroke="#000" stroke-width="1.35"/>
<line x1="44.4" x2="50.1" y1="415.12" y2="415.12" stroke="#000" stroke-width="1.35"/>
<line x1="44.4" x2="55.8" y1="381.20" y2="381.20" stroke="#000" stroke-width="1.9"/>
<line x1="44.4" x2="50.1" y1="356.35" y2="356.35" stroke="#000" stroke-width="1.35"/>
<line x1="44.4" x2="50.1" y1="362.61" y2="362.61" stroke="#000" stroke-width="1.35"/>
<line x1="44.4" x2="50.1" y1="367.05" y2="367.05" stroke="#000" stroke-width="1.35"/>
<line x1="44.4" x2="50.1" y1="370.50" y2="370.50" stroke="#000" stroke-width="1.35"/>
<line x1="44.4" x2="50.1" y1="373.31" y2="373.31" stroke="#000" stroke-width="1.35"/>
<line x1="44.4" x2="50.1" y1="375.69" y2="375.69" stroke="#000" stroke-width="1.35"/>
<line x1="44.4" x2="50.1" y1="377.75" y2="377.75" stroke="#000" stroke-width="1.35"/>
<line x1="44.4" x2="50.1" y1="379.57" y2="379.57" stroke="#000" stroke-width="1.35"/>
<line x1="44.4" x2="55.8" y1="345.65" y2="345.65" stroke="#000" stroke-width="1.9"/>
<line x1="44.4" x2="50.1" y1="320.80" y2="320.80" stroke="#000" stroke-width="1.35"/>
<line x1="44.4" x2="50.1" y1="327.06" y2="327.06" stroke="#000" stroke-width="1.35"/>
<line x1="44.4" x2="50.1" y1="331.50" y2="331.50" stroke="#000" stroke-width="1.35"/>
<line x1="44.4" x2="50.1" y1="334.95" y2="334.95" stroke="#000" stroke-width="1.35"/>
<line x1="44.4" x2="50.1" y1="337.76" y2="337.76" stroke="#000" stroke-width="1.35"/>
<line x1="44.4" x2="50.1" y1="340.14" y2="340.14" stroke="#000" stroke-width="1.35"/>
<line x1="44.4" x2="50.1" y1="342.20" y2="342.20" stroke="#000" stroke-width="1.35"/>
<line x1="44.4" x2="50.1" y1="344.02" y2="344.02" stroke="#000" stroke-width="1.35"/>
<line x1="44.4" x2="55.8" y1="310.10" y2="310.10" stroke="#000" stroke-width="1.9"/>
<line x1="44.4" x2="50.1" y1="285.25" y2="285.25" stroke="#000" stroke-width="1.35"/>
<line x1="44.4" x2="50.1" y1="291.51" y2="291.51" stroke="#000" stroke-width="1.35"/>
<line x1="44.4" x2="50.1" y1="295.95" y2="295.95" stroke="#000" stroke-width="1.35"/>
<line x1="44.4" x2="50.1" y1="299.40" y2="299.40" stroke="#000" stroke-width="1.35"/>
<line x1="44.4" x2="50.1" y1="302.21" y2="302.21" stroke="#000" stroke-width="1.35"/>
<line x1="44.4" x2="50.1" y1="304.59" y2="304.59" stroke="#000" stroke-width="1.35"/>
<line x1="44.4" x2="50.1" y1="306.65" y2="306.65" stroke="#000" stroke-width="1.35"/>
<line x1="44.4" x2="50.1" y1="308.47" y2="308.47" stroke="#000" stroke-width="1.35"/>
<line x1="44.4" x2="55.8" y1="274.55" y2="274.55" stroke="#000" stroke-width="1.9"/>
<line x1="44.4" x2="50.1" y1="249.70" y2="249.70" stroke="#000" stroke-width="1.35"/>
<line x1="44.4" x2="50.1" y1="255.96" y2="255.96" stroke="#000" stroke-width="1.35"/>
<line x1="44.4" x2="50.1" y1="260.40" y2="260.40" stroke="#000" stroke-width="1.35"/>
<line x1="44.4" x2="50.1" y1="263.85" y2="263.85" stroke="#000" stroke-width="1.35"/>
<line x1="44.4" x2="50.1" y1="266.66" y2="266.66" stroke="#000" stroke-width="1.35"/>
<line x1="44.4" x2="50.1" y1="269.04" y2="269.04" stroke="#000" stroke-width="1.35"/>
<line x1="44.4" x2="50.1" y1="271.10" y2="271.10" stroke="#000" stroke-width="1.35"/>
<line x1="44.4" x2="50.1" y1="272.92" y2="272.92" stroke="#000" stroke-width="1.35"/>
<line x1="44.40" x2="44.40" y1="452.3" y2="440.90000000000003" stroke="#000" stroke-width="1.9"/>
<line x1="62.50" x2="62.50" y1="452.3" y2="446.6" stroke="#000" stroke-width="1.35"/>
<line x1="73.09" x2="73.09" y1="452.3" y2="446.6" stroke="#000" stroke-width="1.35"/>
<line x1="80.61" x2="80.61" y1="452.3" y2="446.6" stroke="#000" stroke-width="1.35"/>
<line x1="86.44" x2="86.44" y1="452.3" y2="446.6" stroke="#000" stroke-width="1.35"/>
<line x1="91.20" x2="91.20" y1="452.3" y2="446.6" stroke="#000" stroke-width="1.35"/>
<line x1="95.22" x2="95.22" y1="452.3" y2="446.6" stroke="#000" stroke-width="1.35"/>
<line x1="98.71" x2="98.71" y1="452.3" y2="446.6" stroke="#000" stroke-width="1.35"/>
<line x1="101.79" x2="101.79" y1="452.3" y2="446.6" stroke="#000" stroke-width="1.35"/>
<line x1="104.54" x2="104.54" y1="452.3" y2="440.90000000000003" stroke="#000" stroke-width="1.9"/>
<line x1="122.64" x2="122.64" y1="452.3" y2="446.6" stroke="#000" stroke-width="1.35"/>
<line x1="133.23" x2="133.23" y1="452.3" y2="446.6" stroke="#000" stroke-width="1.35"/>
<line x1="140.75" x2="140.75" y1="452.3" y2="446.6" stroke="#000" stroke-width="1.35"/>
<line x1="146.58" x2="146.58" y1="452.3" y2="446.6" stroke="#000" stroke-width="1.35"/>
<line x1="151.34" x2="151.34" y1="452.3" y2="446.6" stroke="#000" stroke-width="1.35"/>
<line x1="155.36" x2="155.36" y1="452.3" y2="446.6" stroke="#000" stroke-width="1.35"/>
<line x1="158.85" x2="158.85" y1="452.3" y2="446.6" stroke="#000" stroke-width="1.35"/>
<line x1="161.93" x2="161.93" y1="452.3" y2="446.6" stroke="#000" stroke-width="1.35"/>
<line x1="164.68" x2="164.68" y1="452.3" y2="440.90000000000003" stroke="#000" stroke-width="1.9"/>
<line x1="182.78" x2="182.78" y1="452.3" y2="446.6" stroke="#000" stroke-width="1.35"/>
<line x1="193.37" x2="193.37" y1="452.3" y2="446.6" stroke="#000" stroke-width="1.35"/>
<line x1="200.89" x2="200.89" y1="452.3" y2="446.6" stroke="#000" stroke-width="1.35"/>
<line x1="206.72" x2="206.72" y1="452.3" y2="446.6" stroke="#000" stroke-width="1.35"/>
<line x1="211.48" x2="211.48" y1="452.3" y2="446.6" stroke="#000" stroke-width="1.35"/>
<line x1="215.50" x2="215.50" y1="452.3" y2="446.6" stroke="#000" stroke-width="1.35"/>
<line x1="218.99" x2="218.99" y1="452.3" y2="446.6" stroke="#000" stroke-width="1.35"/>
<line x1="222.07" x2="222.07" y1="452.3" y2="446.6" stroke="#000" stroke-width="1.35"/>
<line x1="224.82" x2="224.82" y1="452.3" y2="440.90000000000003" stroke="#000" stroke-width="1.9"/>
<line x1="242.92" x2="242.92" y1="452.3" y2="446.6" stroke="#000" stroke-width="1.35"/>
<line x1="253.51" x2="253.51" y1="452.3" y2="446.6" stroke="#000" stroke-width="1.35"/>
<line x1="261.03" x2="261.03" y1="452.3" y2="446.6" stroke="#000" stroke-width="1.35"/>
<line x1="266.86" x2="266.86" y1="452.3" y2="446.6" stroke="#000" stroke-width="1.35"/>
<line x1="271.62" x2="271.62" y1="452.3" y2="446.6" stroke="#000" stroke-width="1.35"/>
<line x1="275.64" x2="275.64" y1="452.3" y2="446.6" stroke="#000" stroke-width="1.35"/>
<line x1="279.13" x2="279.13" y1="452.3" y2="446.6" stroke="#000" stroke-width="1.35"/>
<line x1="282.21" x2="282.21" y1="452.3" y2="446.6" stroke="#000" stroke-width="1.35"/>
<line x1="284.96" x2="284.96" y1="452.3" y2="440.90000000000003" stroke="#000" stroke-width="1.9"/>
<line x1="303.06" x2="303.06" y1="452.3" y2="446.6" stroke="#000" stroke-width="1.35"/>
<line x1="313.65" x2="313.65" y1="452.3" y2="446.6" stroke="#000" stroke-width="1.35"/>
<line x1="321.17" x2="321.17" y1="452.3" y2="446.6" stroke="#000" stroke-width="1.35"/>
<line x1="327.00" x2="327.00" y1="452.3" y2="446.6" stroke="#000" stroke-width="1.35"/>
<line x1="331.76" x2="331.76" y1="452.3" y2="446.6" stroke="#000" stroke-width="1.35"/>
<line x1="335.78" x2="335.78" y1="452.3" y2="446.6" stroke="#000" stroke-width="1.35"/>
<line x1="339.27" x2="339.27" y1="452.3" y2="446.6" stroke="#000" stroke-width="1.35"/>
<line x1="342.35" x2="342.35" y1="452.3" y2="446.6" stroke="#000" stroke-width="1.35"/>
<line x1="345.10" x2="345.10" y1="452.3" y2="440.90000000000003" stroke="#000" stroke-width="1.9"/>
<text x="41.5" y="456.70" text-anchor="end" font-size="12">10<tspan font-size="8.4" dy="-4.4">2</tspan></text>
<text x="41.5" y="421.15" text-anchor="end" font-size="12">10<tspan font-size="8.4" dy="-4.4">1</tspan></text>
<text x="41.5" y="385.60" text-anchor="end" font-size="12">10<tspan font-size="8.4" dy="-4.4">0</tspan></text>
<text x="41.5" y="350.05" text-anchor="end" font-size="12">10<tspan font-size="8.4" dy="-4.4">−1</tspan></text>
<text x="41.5" y="314.50" text-anchor="end" font-size="12">10<tspan font-size="8.4" dy="-4.4">−2</tspan></text>
<text x="41.5" y="278.95" text-anchor="end" font-size="12">10<tspan font-size="8.4" dy="-4.4">−3</tspan></text>
<text x="44.40" y="463.30" text-anchor="middle" font-size="12">10<tspan font-size="8.4" dy="-4.4">−8</tspan></text>
<text x="104.54" y="463.30" text-anchor="middle" font-size="12">10<tspan font-size="8.4" dy="-4.4">−7</tspan></text>
<text x="164.68" y="463.30" text-anchor="middle" font-size="12">10<tspan font-size="8.4" dy="-4.4">−6</tspan></text>
<text x="224.82" y="463.30" text-anchor="middle" font-size="12">10<tspan font-size="8.4" dy="-4.4">−5</tspan></text>
<text x="284.96" y="463.30" text-anchor="middle" font-size="12">10<tspan font-size="8.4" dy="-4.4">−4</tspan></text>
<text x="345.10" y="463.30" text-anchor="middle" font-size="12">10<tspan font-size="8.4" dy="-4.4">−3</tspan></text>
<text x="195" y="477.7" text-anchor="middle" font-size="12">Volume Mixing Ratio</text>
<text transform="translate(10,349.2) rotate(-90)" text-anchor="middle" font-size="12">Pressure [Bars]</text>
<rect x="169.3" y="251.3" width="50.2" height="68.8" rx="1.6" fill="#fff" fill-opacity="0.8" stroke="#d2d2d2" stroke-width="1"/>
<line x1="172.2" x2="191.3" y1="258.5" y2="258.5" stroke="#ff0000" stroke-width="1.75"/>
<line x1="172.2" x2="191.3" y1="271.8" y2="271.8" stroke="#0000ff" stroke-width="1.75"/>
<line x1="172.2" x2="191.3" y1="285" y2="285" stroke="#ffc0cb" stroke-width="1.75"/>
<line x1="172.2" x2="191.3" y1="298.4" y2="298.4" stroke="#fa8072" stroke-width="1.75"/>
<line x1="172.2" x2="191.3" y1="311.7" y2="311.7" stroke="#008000" stroke-width="1.75"/>
<text x="197.5" y="261.8" font-size="9">CO</text>
<text x="197.5" y="274.8" font-size="9">CH<tspan font-size="6.3" dy="1.9">4</tspan></text>
<text x="197.5" y="288.0" font-size="9">NH<tspan font-size="6.3" dy="1.9">3</tspan></text>
<text x="197.5" y="301.4" font-size="9">CO<tspan font-size="6.3" dy="1.9">2</tspan></text>
<text x="197.5" y="314.7" font-size="9">H<tspan font-size="6.3" dy="1.9">2</tspan><tspan dy="-1.9">O</tspan></text>
</g>
<g id="p4">
<clipPath id="c4"><rect x="405.1" y="246.9" width="301.19999999999993" height="205.4"/></clipPath>
<g clip-path="url(#c4)">
<path d="M530.10 246.60 C530.52 247.47 531.22 250.23 532.60 251.80 C533.98 253.37 536.03 254.60 538.40 256.00 C540.77 257.40 544.28 258.95 546.80 260.20 C549.32 261.45 551.88 262.25 553.50 263.50 C555.12 264.75 556.65 266.17 556.50 267.70 C556.35 269.23 554.50 271.02 552.60 272.70 C550.70 274.38 547.75 276.12 545.10 277.80 C542.45 279.48 538.78 281.13 536.70 282.80 C534.62 284.47 533.43 286.13 532.60 287.80 C531.77 289.47 531.43 291.13 531.70 292.80 C531.97 294.47 532.95 295.98 534.20 297.80 C535.45 299.62 537.80 301.75 539.20 303.70 C540.60 305.65 541.33 307.42 542.60 309.50 C543.87 311.58 545.15 314.20 546.80 316.20 C548.45 318.20 550.57 319.75 552.50 321.50 C554.43 323.25 555.47 324.87 558.40 326.70 C561.33 328.53 565.93 330.70 570.10 332.50 C574.27 334.30 578.40 335.82 583.40 337.50 C588.40 339.18 594.52 340.78 600.10 342.60 C605.68 344.42 611.88 346.60 616.90 348.40 C621.92 350.20 626.03 351.73 630.20 353.40 C634.37 355.07 638.70 356.72 641.90 358.40 C645.10 360.08 647.80 361.82 649.40 363.50 C651.00 365.18 651.50 366.55 651.50 368.50 C651.50 370.45 650.72 372.98 649.40 375.20 C648.08 377.42 646.23 379.72 643.60 381.80 C640.97 383.88 636.40 386.28 633.60 387.70 C630.80 389.12 630.17 389.10 626.80 390.30 C623.43 391.50 617.02 393.52 613.40 394.90 C609.78 396.28 606.77 397.65 605.10 398.60 C603.43 399.55 603.40 399.87 603.40 400.60 C603.40 401.33 603.43 402.12 605.10 403.00 C606.77 403.88 609.78 404.72 613.40 405.90 C617.02 407.08 622.33 408.72 626.80 410.10 C631.27 411.48 636.02 412.87 640.20 414.20 C644.38 415.53 648.83 416.90 651.90 418.10 C654.97 419.30 656.98 420.05 658.60 421.40 C660.22 422.75 661.05 424.47 661.60 426.20 C662.15 427.93 661.98 429.75 661.90 431.80 C661.82 433.85 661.47 436.13 661.10 438.50 C660.73 440.87 659.93 444.75 659.70 446.00" fill="none" stroke="#000" stroke-width="1.85" stroke-dasharray="6.6,2.9" />
<path d="M584.20 246.60 C584.78 247.33 586.83 249.57 587.70 251.00 C588.57 252.43 589.40 253.80 589.40 255.20 C589.40 256.60 588.95 258.15 587.70 259.40 C586.45 260.65 584.12 261.53 581.90 262.70 C579.68 263.87 576.35 265.15 574.40 266.40 C572.45 267.65 570.97 269.00 570.20 270.20 C569.43 271.40 569.67 272.33 569.80 273.60 C569.93 274.87 571.08 276.42 571.00 277.80 C570.92 279.18 570.55 280.37 569.30 281.90 C568.05 283.43 565.58 285.32 563.50 287.00 C561.42 288.68 558.88 290.20 556.80 292.00 C554.72 293.80 552.53 295.85 551.00 297.80 C549.47 299.75 548.25 302.03 547.60 303.70 C546.95 305.37 546.68 306.55 547.10 307.80 C547.52 309.05 548.20 310.13 550.10 311.20 C552.00 312.27 555.15 313.15 558.50 314.20 C561.85 315.25 566.03 316.33 570.20 317.50 C574.37 318.67 579.90 320.08 583.50 321.20 C587.10 322.32 587.63 322.87 591.80 324.20 C595.97 325.53 603.22 327.40 608.50 329.20 C613.78 331.00 618.77 333.05 623.50 335.00 C628.23 336.95 633.00 338.95 636.90 340.90 C640.80 342.85 644.58 344.88 646.90 346.70 C649.22 348.52 650.38 350.27 650.80 351.80 C651.22 353.33 650.60 354.52 649.40 355.90 C648.20 357.28 645.97 358.57 643.60 360.10 C641.23 361.63 637.70 363.15 635.20 365.10 C632.70 367.05 631.10 369.28 628.60 371.80 C626.10 374.32 623.00 377.42 620.20 380.20 C617.40 382.98 613.77 386.73 611.80 388.50 C609.83 390.27 609.80 389.57 608.40 390.80 C607.00 392.03 604.45 394.58 603.40 395.90 C602.35 397.22 601.97 397.78 602.10 398.70 C602.23 399.62 602.32 400.40 604.20 401.40 C606.08 402.40 609.63 403.45 613.40 404.70 C617.17 405.95 622.33 407.50 626.80 408.90 C631.27 410.30 636.02 411.70 640.20 413.10 C644.38 414.50 648.83 416.00 651.90 417.30 C654.97 418.60 656.98 419.47 658.60 420.90 C660.22 422.33 661.05 424.08 661.60 425.90 C662.15 427.72 661.98 429.70 661.90 431.80 C661.82 433.90 661.47 436.13 661.10 438.50 C660.73 440.87 659.93 444.75 659.70 446.00" fill="none" stroke="#000" stroke-width="1.85" />
</g>
<rect x="405.1" y="246.9" width="301.19999999999993" height="205.4" fill="none" stroke="#858585" stroke-width="1.05"/>
<line x1="405.1" x2="416.5" y1="452.30" y2="452.30" stroke="#000" stroke-width="1.9"/>
<line x1="405.1" x2="410.8" y1="427.45" y2="427.45" stroke="#000" stroke-width="1.35"/>
<line x1="405.1" x2="410.8" y1="433.71" y2="433.71" stroke="#000" stroke-width="1.35"/>
<line x1="405.1" x2="410.8" y1="438.15" y2="438.15" stroke="#000" stroke-width="1.35"/>
<line x1="405.1" x2="410.8" y1="441.60" y2="441.60" stroke="#000" stroke-width="1.35"/>
<line x1="405.1" x2="410.8" y1="444.41" y2="444.41" stroke="#000" stroke-width="1.35"/>
<line x1="405.1" x2="410.8" y1="446.79" y2="446.79" stroke="#000" stroke-width="1.35"/>
<line x1="405.1" x2="410.8" y1="448.85" y2="448.85" stroke="#000" stroke-width="1.35"/>
<line x1="405.1" x2="410.8" y1="450.67" y2="450.67" stroke="#000" stroke-width="1.35"/>
<line x1="405.1" x2="416.5" y1="416.75" y2="416.75" stroke="#000" stroke-width="1.9"/>
<line x1="405.1" x2="410.8" y1="391.90" y2="391.90" stroke="#000" stroke-width="1.35"/>
<line x1="405.1" x2="410.8" y1="398.16" y2="398.16" stroke="#000" stroke-width="1.35"/>
<line x1="405.1" x2="410.8" y1="402.60" y2="402.60" stroke="#000" stroke-width="1.35"/>
<line x1="405.1" x2="410.8" y1="406.05" y2="406.05" stroke="#000" stroke-width="1.35"/>
<line x1="405.1" x2="410.8" y1="408.86" y2="408.86" stroke="#000" stroke-width="1.35"/>
<line x1="405.1" x2="410.8" y1="411.24" y2="411.24" stroke="#000" stroke-width="1.35"/>
<line x1="405.1" x2="410.8" y1="413.30" y2="413.30" stroke="#000" stroke-width="1.35"/>
<line x1="405.1" x2="410.8" y1="415.12" y2="415.12" stroke="#000" stroke-width="1.35"/>
<line x1="405.1" x2="416.5" y1="381.20" y2="381.20" stroke="#000" stroke-width="1.9"/>
<line x1="405.1" x2="410.8" y1="356.35" y2="356.35" stroke="#000" stroke-width="1.35"/>
<line x1="405.1" x2="410.8" y1="362.61" y2="362.61" stroke="#000" stroke-width="1.35"/>
<line x1="405.1" x2="410.8" y1="367.05" y2="367.05" stroke="#000" stroke-width="1.35"/>
<line x1="405.1" x2="410.8" y1="370.50" y2="370.50" stroke="#000" stroke-width="1.35"/>
<line x1="405.1" x2="410.8" y1="373.31" y2="373.31" stroke="#000" stroke-width="1.35"/>
<line x1="405.1" x2="410.8" y1="375.69" y2="375.69" stroke="#000" stroke-width="1.35"/>
<line x1="405.1" x2="410.8" y1="377.75" y2="377.75" stroke="#000" stroke-width="1.35"/>
<line x1="405.1" x2="410.8" y1="379.57" y2="379.57" stroke="#000" stroke-width="1.35"/>
<line x1="405.1" x2="416.5" y1="345.65" y2="345.65" stroke="#000" stroke-width="1.9"/>
<line x1="405.1" x2="410.8" y1="320.80" y2="320.80" stroke="#000" stroke-width="1.35"/>
<line x1="405.1" x2="410.8" y1="327.06" y2="327.06" stroke="#000" stroke-width="1.35"/>
<line x1="405.1" x2="410.8" y1="331.50" y2="331.50" stroke="#000" stroke-width="1.35"/>
<line x1="405.1" x2="410.8" y1="334.95" y2="334.95" stroke="#000" stroke-width="1.35"/>
<line x1="405.1" x2="410.8" y1="337.76" y2="337.76" stroke="#000" stroke-width="1.35"/>
<line x1="405.1" x2="410.8" y1="340.14" y2="340.14" stroke="#000" stroke-width="1.35"/>
<line x1="405.1" x2="410.8" y1="342.20" y2="342.20" stroke="#000" stroke-width="1.35"/>
<line x1="405.1" x2="410.8" y1="344.02" y2="344.02" stroke="#000" stroke-width="1.35"/>
<line x1="405.1" x2="416.5" y1="310.10" y2="310.10" stroke="#000" stroke-width="1.9"/>
<line x1="405.1" x2="410.8" y1="285.25" y2="285.25" stroke="#000" stroke-width="1.35"/>
<line x1="405.1" x2="410.8" y1="291.51" y2="291.51" stroke="#000" stroke-width="1.35"/>
<line x1="405.1" x2="410.8" y1="295.95" y2="295.95" stroke="#000" stroke-width="1.35"/>
<line x1="405.1" x2="410.8" y1="299.40" y2="299.40" stroke="#000" stroke-width="1.35"/>
<line x1="405.1" x2="410.8" y1="302.21" y2="302.21" stroke="#000" stroke-width="1.35"/>
<line x1="405.1" x2="410.8" y1="304.59" y2="304.59" stroke="#000" stroke-width="1.35"/>
<line x1="405.1" x2="410.8" y1="306.65" y2="306.65" stroke="#000" stroke-width="1.35"/>
<line x1="405.1" x2="410.8" y1="308.47" y2="308.47" stroke="#000" stroke-width="1.35"/>
<line x1="405.1" x2="416.5" y1="274.55" y2="274.55" stroke="#000" stroke-width="1.9"/>
<line x1="405.1" x2="410.8" y1="249.70" y2="249.70" stroke="#000" stroke-width="1.35"/>
<line x1="405.1" x2="410.8" y1="255.96" y2="255.96" stroke="#000" stroke-width="1.35"/>
<line x1="405.1" x2="410.8" y1="260.40" y2="260.40" stroke="#000" stroke-width="1.35"/>
<line x1="405.1" x2="410.8" y1="263.85" y2="263.85" stroke="#000" stroke-width="1.35"/>
<line x1="405.1" x2="410.8" y1="266.66" y2="266.66" stroke="#000" stroke-width="1.35"/>
<line x1="405.1" x2="410.8" y1="269.04" y2="269.04" stroke="#000" stroke-width="1.35"/>
<line x1="405.1" x2="410.8" y1="271.10" y2="271.10" stroke="#000" stroke-width="1.35"/>
<line x1="405.1" x2="410.8" y1="272.92" y2="272.92" stroke="#000" stroke-width="1.35"/>
<line x1="405.10" x2="405.10" y1="452.3" y2="440.90000000000003" stroke="#000" stroke-width="1.9"/>
<line x1="435.32" x2="435.32" y1="452.3" y2="446.6" stroke="#000" stroke-width="1.35"/>
<line x1="453.00" x2="453.00" y1="452.3" y2="446.6" stroke="#000" stroke-width="1.35"/>
<line x1="465.55" x2="465.55" y1="452.3" y2="446.6" stroke="#000" stroke-width="1.35"/>
<line x1="475.28" x2="475.28" y1="452.3" y2="446.6" stroke="#000" stroke-width="1.35"/>
<line x1="483.23" x2="483.23" y1="452.3" y2="446.6" stroke="#000" stroke-width="1.35"/>
<line x1="489.95" x2="489.95" y1="452.3" y2="446.6" stroke="#000" stroke-width="1.35"/>
<line x1="495.77" x2="495.77" y1="452.3" y2="446.6" stroke="#000" stroke-width="1.35"/>
<line x1="500.91" x2="500.91" y1="452.3" y2="446.6" stroke="#000" stroke-width="1.35"/>
<line x1="505.50" x2="505.50" y1="452.3" y2="440.90000000000003" stroke="#000" stroke-width="1.9"/>
<line x1="535.72" x2="535.72" y1="452.3" y2="446.6" stroke="#000" stroke-width="1.35"/>
<line x1="553.40" x2="553.40" y1="452.3" y2="446.6" stroke="#000" stroke-width="1.35"/>
<line x1="565.95" x2="565.95" y1="452.3" y2="446.6" stroke="#000" stroke-width="1.35"/>
<line x1="575.68" x2="575.68" y1="452.3" y2="446.6" stroke="#000" stroke-width="1.35"/>
<line x1="583.63" x2="583.63" y1="452.3" y2="446.6" stroke="#000" stroke-width="1.35"/>
<line x1="590.35" x2="590.35" y1="452.3" y2="446.6" stroke="#000" stroke-width="1.35"/>
<line x1="596.17" x2="596.17" y1="452.3" y2="446.6" stroke="#000" stroke-width="1.35"/>
<line x1="601.31" x2="601.31" y1="452.3" y2="446.6" stroke="#000" stroke-width="1.35"/>
<line x1="605.90" x2="605.90" y1="452.3" y2="440.90000000000003" stroke="#000" stroke-width="1.9"/>
<line x1="636.12" x2="636.12" y1="452.3" y2="446.6" stroke="#000" stroke-width="1.35"/>
<line x1="653.80" x2="653.80" y1="452.3" y2="446.6" stroke="#000" stroke-width="1.35"/>
<line x1="666.35" x2="666.35" y1="452.3" y2="446.6" stroke="#000" stroke-width="1.35"/>
<line x1="676.08" x2="676.08" y1="452.3" y2="446.6" stroke="#000" stroke-width="1.35"/>
<line x1="684.03" x2="684.03" y1="452.3" y2="446.6" stroke="#000" stroke-width="1.35"/>
<line x1="690.75" x2="690.75" y1="452.3" y2="446.6" stroke="#000" stroke-width="1.35"/>
<line x1="696.57" x2="696.57" y1="452.3" y2="446.6" stroke="#000" stroke-width="1.35"/>
<line x1="701.71" x2="701.71" y1="452.3" y2="446.6" stroke="#000" stroke-width="1.35"/>
<line x1="706.30" x2="706.30" y1="452.3" y2="440.90000000000003" stroke="#000" stroke-width="1.9"/>
<text x="402.20000000000005" y="456.70" text-anchor="end" font-size="12">10<tspan font-size="8.4" dy="-4.4">2</tspan></text>
<text x="402.20000000000005" y="421.15" text-anchor="end" font-size="12">10<tspan font-size="8.4" dy="-4.4">1</tspan></text>
<text x="402.20000000000005" y="385.60" text-anchor="end" font-size="12">10<tspan font-size="8.4" dy="-4.4">0</tspan></text>
<text x="402.20000000000005" y="350.05" text-anchor="end" font-size="12">10<tspan font-size="8.4" dy="-4.4">−1</tspan></text>
<text x="402.20000000000005" y="314.50" text-anchor="end" font-size="12">10<tspan font-size="8.4" dy="-4.4">−2</tspan></text>
<text x="402.20000000000005" y="278.95" text-anchor="end" font-size="12">10<tspan font-size="8.4" dy="-4.4">−3</tspan></text>
<text x="405.10" y="463.30" text-anchor="middle" font-size="12">10<tspan font-size="8.4" dy="-4.4">7</tspan></text>
<text x="505.50" y="463.30" text-anchor="middle" font-size="12">10<tspan font-size="8.4" dy="-4.4">8</tspan></text>
<text x="605.90" y="463.30" text-anchor="middle" font-size="12">10<tspan font-size="8.4" dy="-4.4">9</tspan></text>
<text x="706.30" y="463.30" text-anchor="middle" font-size="12">10<tspan font-size="8.4" dy="-4.4">10</tspan></text>
<text x="555.9" y="479.4" text-anchor="middle" font-size="12">K<tspan font-size="8.4" dy="2.4">zz</tspan><tspan dy="-2.4"> (cm</tspan><tspan font-size="8.4" dy="-4.6">2</tspan><tspan dy="4.6">/s)</tspan></text>
<text transform="translate(370.5,349.2) rotate(-90)" text-anchor="middle" font-size="12">Pressure [Bars]</text>
<rect x="601.5" y="252.6" width="98.8" height="39.5" rx="2" fill="#fff" fill-opacity="0.8" stroke="#d2d2d2" stroke-width="1"/>
<line x1="605.8" x2="630.6" y1="262.9" y2="262.9" stroke="#000" stroke-width="1.75" stroke-dasharray="6.4,2.8"/>
<line x1="605.8" x2="630.6" y1="280.2" y2="280.2" stroke="#000" stroke-width="1.75"/>
<text x="640.1" y="266.4" font-size="12">f<tspan font-size="8.40" dy="2.4">sed</tspan><tspan dy="-2.4"> = 1</tspan></text>
<text x="640.1" y="283.7" font-size="12">f<tspan font-size="8.40" dy="2.4">sed</tspan><tspan dy="-2.4"> = 0.6</tspan></text>
</g>
</svg>
</body></html>
